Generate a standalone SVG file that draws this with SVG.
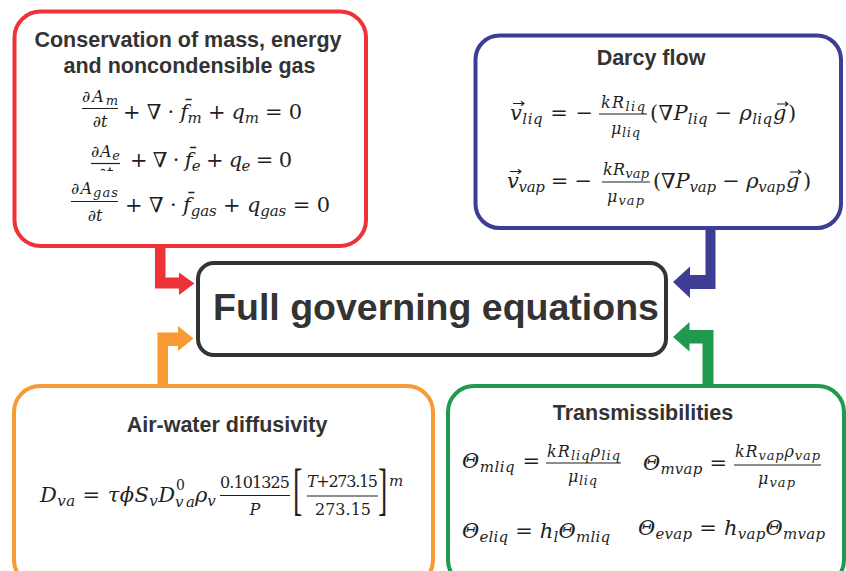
<svg xmlns="http://www.w3.org/2000/svg" width="846" height="571" viewBox="0 0 846 571">
<style>
.box{fill:#fff;stroke-width:4}
.ttl{font-family:"Liberation Sans",Arial,sans-serif;font-weight:bold;font-size:21.5px;fill:#333;text-anchor:middle}
.m{font-family:"DejaVu Serif","Liberation Serif",serif;font-size:21px;fill:#1f1f1f}
.s{font-size:15px}
.f{font-size:16px}
.fs{font-size:13px}
.i{font-style:italic}
.bar{stroke:#1f1f1f;stroke-width:1.2}
.vec{fill:none;stroke:#1f1f1f;stroke-width:1.1}
.br{font-family:"Liberation Serif",serif;font-size:56px}
</style>
<defs>
<clipPath id="clipE2"><rect x="80" y="140" width="60" height="31"/></clipPath>
</defs>
<rect width="846" height="571" fill="#fff"/>

<g id="connectors">
<polygon fill="#ED3338" points="155,246 165.5,246 165.5,277.5 179,277.5 179,272.5 194.5,283.5 179,295 179,288.5 155,288.5"/>
<polygon fill="#3D3D95" points="705.5,228 715.5,228 715.5,289 690,289 690,298 673,282 690,266.5 690,275 705.5,275"/>
<polygon fill="#F89A36" points="157.5,386 168,386 168,346 178,346 178,351 193.5,338.5 178,326 178,332.5 157.5,332.5"/>
<polygon fill="#1F9A4E" points="702.5,386 713.5,386 713.5,330 689.5,330 689.5,322 673,337 689.5,351.5 689.5,343.5 702.5,343.5"/>
</g>

<g id="node-full">
<rect class="box" x="198" y="263" width="468" height="92" rx="16" stroke="#333"/>
<text x="436" y="320" font-family="Liberation Sans,Arial,sans-serif" font-weight="bold" font-size="37.5" fill="#333" text-anchor="middle">Full governing equations</text>
</g>

<g id="node-mass">
<rect class="box" x="14.5" y="11.5" width="351.5" height="234.5" rx="26" stroke="#ED3338"/>
<text class="ttl" x="188" y="47">Conservation of mass, energy</text>
<text class="ttl" x="189.5" y="72.5">and noncondensible gas</text>
<g class="m">
<text class="f" x="82" y="102" textLength="36" lengthAdjust="spacing">∂<tspan class="i">A</tspan><tspan class="i fs" dy="3">m</tspan></text>
<line class="bar" x1="82" y1="108.5" x2="118" y2="108.5"/>
<text class="f" x="100" y="127" text-anchor="middle">∂<tspan class="i">t</tspan></text>
<text x="123" y="119" textLength="179" lengthAdjust="spacing">+ ∇ · <tspan class="i">f&#x0304;</tspan><tspan class="i s" dy="4">m</tspan><tspan dy="-4"> + </tspan><tspan class="i">q</tspan><tspan class="i s" dy="4">m</tspan><tspan dy="-4"> = 0</tspan></text>

<text class="f" x="91" y="157" textLength="29" lengthAdjust="spacing">∂<tspan class="i">A</tspan><tspan class="i fs" dy="3">e</tspan></text>
<line class="bar" x1="91" y1="163.5" x2="120" y2="163.5"/>
<text class="f" x="105.5" y="179" text-anchor="middle" clip-path="url(#clipE2)">∂<tspan class="i">t</tspan></text>
<text x="130" y="167" textLength="162" lengthAdjust="spacing">+ ∇ · <tspan class="i">f&#x0304;</tspan><tspan class="i s" dy="4">e</tspan><tspan dy="-4"> + </tspan><tspan class="i">q</tspan><tspan class="i s" dy="4">e</tspan><tspan dy="-4"> = 0</tspan></text>

<text class="f" x="71" y="194" textLength="47" lengthAdjust="spacing">∂<tspan class="i">A</tspan><tspan class="i fs" dy="3">gas</tspan></text>
<line class="bar" x1="71" y1="201.5" x2="118" y2="201.5"/>
<text class="f" x="95" y="221" text-anchor="middle">∂<tspan class="i">t</tspan></text>
<text x="125" y="212" textLength="205" lengthAdjust="spacing">+ ∇ · <tspan class="i">f&#x0304;</tspan><tspan class="i s" dy="4">gas</tspan><tspan dy="-4"> + </tspan><tspan class="i">q</tspan><tspan class="i s" dy="4">gas</tspan><tspan dy="-4"> = 0</tspan></text>
</g>
</g>

<g id="node-darcy">
<rect class="box" x="475.5" y="35.5" width="365.5" height="192.5" rx="24" stroke="#3D3D95"/>
<text class="ttl" x="651" y="65">Darcy flow</text>
<g class="m">
<text x="510" y="120" textLength="83" lengthAdjust="spacing"><tspan class="i">v</tspan><tspan class="i s" dy="4">liq</tspan><tspan dy="-4"> = −</tspan></text>
<path class="vec" d="M513,103.5 H524 M521,101.3 L524,103.5 L521,105.7"/>
<text class="f" x="601" y="108" textLength="44" lengthAdjust="spacing"><tspan class="i">kR</tspan><tspan class="i fs" dy="3">liq</tspan></text>
<line class="bar" x1="599" y1="114" x2="647" y2="114"/>
<text class="f" x="611" y="134" textLength="29" lengthAdjust="spacing"><tspan class="i">μ</tspan><tspan class="i fs" dy="3">liq</tspan></text>
<text x="650" y="120" textLength="122" lengthAdjust="spacing">(∇<tspan class="i">P</tspan><tspan class="i s" dy="4">liq</tspan><tspan dy="-4"> − </tspan><tspan class="i">ρ</tspan><tspan class="i s" dy="4">liq</tspan></text>
<text x="773" y="120"><tspan class="i">g</tspan><tspan x="788">)</tspan></text>
<path class="vec" d="M777,104 H788 M785,101.8 L788,104 L785,106.2"/>

<text x="507" y="188" textLength="85" lengthAdjust="spacing"><tspan class="i">v</tspan><tspan class="i s" dy="4">vap</tspan><tspan dy="-4"> = −</tspan></text>
<path class="vec" d="M510,171.5 H521 M518,169.3 L521,171.5 L518,173.7"/>
<text class="f" x="603" y="175" textLength="46" lengthAdjust="spacing"><tspan class="i">kR</tspan><tspan class="i fs" dy="3">vap</tspan></text>
<line class="bar" x1="602" y1="182" x2="650" y2="182"/>
<text class="f" x="607" y="202" textLength="37" lengthAdjust="spacing"><tspan class="i">μ</tspan><tspan class="i fs" dy="3">vap</tspan></text>
<text x="653" y="188" textLength="132" lengthAdjust="spacing">(∇<tspan class="i">P</tspan><tspan class="i s" dy="4">vap</tspan><tspan dy="-4"> − </tspan><tspan class="i">ρ</tspan><tspan class="i s" dy="4">vap</tspan></text>
<text x="786" y="188"><tspan class="i">g</tspan><tspan x="803">)</tspan></text>
<path class="vec" d="M790,172 H801 M798,169.8 L801,172 L798,174.2"/>
</g>
</g>

<g id="node-diffusivity">
<rect class="box" x="14" y="386" width="419" height="200" rx="26" stroke="#F89A36"/>
<text class="ttl" x="227" y="431.5">Air-water diffusivity</text>
<g class="m">
<text x="40" y="502" textLength="135" lengthAdjust="spacing"><tspan class="i">D</tspan><tspan class="i s" dy="4">va</tspan><tspan dy="-4"> = </tspan><tspan class="i">τϕS</tspan><tspan class="i s" dy="4">v</tspan><tspan class="i" dy="-4">D</tspan></text>
<text x="176" y="490" font-size="14">0</text>
<text class="i s" x="175" y="507" textLength="20" lengthAdjust="spacing">va</text>
<text x="195" y="502"><tspan class="i">ρ</tspan><tspan class="i s" dy="4">v</tspan></text>
<text class="f" x="220" y="488" textLength="70" lengthAdjust="spacing">0.101325</text>
<line class="bar" x1="220" y1="495.5" x2="290" y2="495.5"/>
<text class="f i" x="255" y="515" text-anchor="middle">P</text>
<text class="br" transform="translate(293,508) scale(0.5,1)">[</text>
<text class="f" x="307" y="487" textLength="71" lengthAdjust="spacing"><tspan class="i">T</tspan>+273.15</text>
<line class="bar" x1="307" y1="496" x2="378" y2="496"/>
<text class="f" x="343" y="515" text-anchor="middle">273.15</text>
<text class="br" transform="translate(378,508) scale(0.5,1)">]</text>
<text class="i s" x="389" y="486">m</text>
</g>
</g>

<g id="node-trans">
<rect class="box" x="448" y="386" width="396" height="200" rx="26" stroke="#1F9A4E"/>
<text class="ttl" x="643" y="420">Transmissibilities</text>
<g class="m">
<text x="462" y="468" textLength="78" lengthAdjust="spacing"><tspan class="i">Θ</tspan><tspan class="i s" dy="4">mliq</tspan><tspan dy="-4"> =</tspan></text>
<text class="f" x="547" y="457" textLength="73" lengthAdjust="spacing"><tspan class="i">kR</tspan><tspan class="i fs" dy="3">liq</tspan><tspan class="i" dy="-3">ρ</tspan><tspan class="i fs" dy="3">liq</tspan></text>
<line class="bar" x1="546" y1="463" x2="621" y2="463"/>
<text class="f" x="568" y="482" textLength="29" lengthAdjust="spacing"><tspan class="i">μ</tspan><tspan class="i fs" dy="3">liq</tspan></text>

<text x="643" y="470" textLength="84" lengthAdjust="spacing"><tspan class="i">Θ</tspan><tspan class="i s" dy="4">mvap</tspan><tspan dy="-4"> =</tspan></text>
<text class="f" x="735" y="457" textLength="85" lengthAdjust="spacing"><tspan class="i">kR</tspan><tspan class="i fs" dy="3">vap</tspan><tspan class="i" dy="-3">ρ</tspan><tspan class="i fs" dy="3">vap</tspan></text>
<line class="bar" x1="734" y1="465" x2="821" y2="465"/>
<text class="f" x="758" y="484" textLength="37" lengthAdjust="spacing"><tspan class="i">μ</tspan><tspan class="i fs" dy="3">vap</tspan></text>

<text x="462" y="538" textLength="148" lengthAdjust="spacing"><tspan class="i">Θ</tspan><tspan class="i s" dy="4">eliq</tspan><tspan dy="-4"> = </tspan><tspan class="i">h</tspan><tspan class="i s" dy="4">l</tspan><tspan class="i" dy="-4">Θ</tspan><tspan class="i s" dy="4">mliq</tspan></text>
<text x="638" y="535" textLength="187" lengthAdjust="spacing"><tspan class="i">Θ</tspan><tspan class="i s" dy="4">evap</tspan><tspan dy="-4"> = </tspan><tspan class="i">h</tspan><tspan class="i s" dy="4">vap</tspan><tspan class="i" dy="-4">Θ</tspan><tspan class="i s" dy="4">mvap</tspan></text>
</g>
</g>
</svg>
